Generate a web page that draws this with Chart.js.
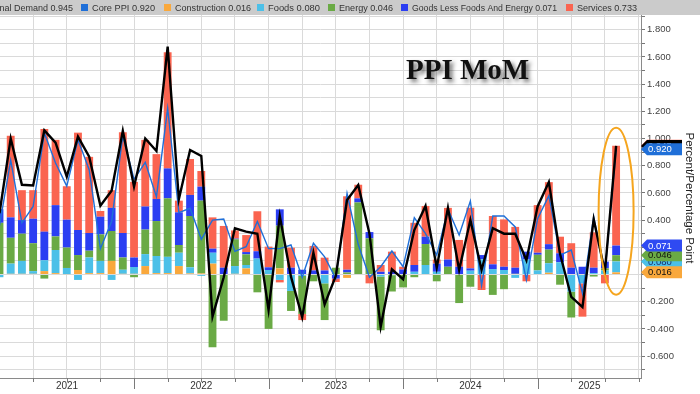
<!DOCTYPE html>
<html>
<head>
<meta charset="utf-8">
<title>PPI MoM</title>
<script src="https://cdn.jsdelivr.net/npm/chart.js@4"></script>
<style>
  html, body { margin: 0; padding: 0; background: #fff; }
  #wrap { width: 700px; height: 394px; }
</style>
</head>
<body>
<div id="wrap"><canvas id="ppi-chart" width="700" height="394"></canvas></div>
<script>
// Monthly contributions to PPI final demand (percentage points), Dec 2020 .. Jul 2025
const construction = [
  0.000,
  0.005, 0.005, 0.005, 0.025, 0.010, 0.003, 0.033, 0.010, 0.010, 0.100, 0.005, 0.005,
  0.062, 0.010, 0.010, 0.062, 0.008, 0.008, 0.080, 0.000, 0.005, 0.045, 0.003, 0.000,
  0.045, 0.000, 0.000, 0.000, 0.000, 0.000, -0.025, 0.000, 0.000, 0.000, 0.000, 0.000,
  0.000, 0.000, 0.000, 0.000, 0.000, 0.000, 0.000, 0.000, 0.000, 0.000, 0.000, 0.000,
  0.013, 0.000, 0.000, 0.000, 0.000, 0.000, 0.016
];
const foods = [
  -0.020,
  0.075, 0.095, 0.020, 0.080, 0.170, 0.045, -0.040, 0.115, 0.090, -0.040, 0.030, 0.050,
  0.088, 0.126, 0.120, 0.098, 0.045, -0.010, 0.080, 0.000, 0.057, 0.025, 0.114, 0.033,
  -0.040, -0.121, -0.010, 0.000, -0.065, 0.000, 0.000, 0.000, 0.000, -0.015, -0.005, 0.000,
  0.020, 0.070, 0.020, 0.000, 0.000, 0.028, 0.112, 0.040, 0.033, -0.025, 0.110, 0.030,
  0.070, 0.090, -0.126, -0.065, 0.010, 0.030, 0.080
];
const energy = [
  0.380,
  0.190, 0.200, 0.205, -0.030, 0.100, 0.150, 0.110, 0.050, 0.195, 0.220, 0.090, -0.020,
  0.180, 0.257, 0.430, 0.057, 0.377, 0.535, -0.535, -0.340, 0.197, 0.078, -0.131, -0.400,
  0.314, -0.147, -0.280, -0.050, -0.270, 0.050, 0.015, 0.530, 0.266, -0.395, -0.120, -0.095,
  -0.020, 0.154, -0.050, 0.057, -0.210, -0.090, 0.000, -0.150, -0.108, 0.005, 0.000, 0.115,
  0.100, -0.075, -0.190, 0.000, -0.015, 0.015, 0.046
];
const goodsLessFoodsEnergy = [
  0.100,
  0.150, 0.100, 0.180, 0.210, 0.230, 0.205, 0.184, 0.130, 0.130, 0.170, 0.180, 0.070,
  0.170, 0.162, 0.220, 0.240, 0.155, 0.103, 0.030, 0.050, 0.005, 0.017, 0.054, 0.020,
  0.120, 0.050, 0.035, 0.030, 0.030, -0.030, 0.020, 0.030, 0.046, 0.020, 0.020, 0.037,
  0.050, 0.054, 0.060, 0.053, 0.057, 0.017, 0.031, 0.035, 0.024, 0.045, 0.058, 0.015,
  0.040, 0.066, 0.050, 0.057, 0.040, 0.050, 0.071
];
const services = [
  0.000,
  0.600, 0.220, 0.210, 0.755, 0.480, 0.246, 0.716, 0.560, 0.042, 0.130, 0.740, 0.556,
  0.490, 0.330, 0.855, 0.086, 0.264, 0.115, 0.230, 0.307, 0.060, 0.125, 0.294, 0.152,
  -0.018, 0.147, -0.045, 0.180, 0.094, -0.025, 0.540, 0.100, -0.065, 0.050, 0.148, 0.020,
  0.310, 0.226, 0.030, 0.380, 0.197, 0.446, -0.114, 0.355, 0.348, 0.300, -0.050, 0.350,
  0.456, 0.122, 0.180, -0.245, 0.260, -0.065, 0.733
];
// headline lines (percent MoM)
const finalDemand = [
  0.45,
  1.00, 0.66, 0.655, 1.06, 0.97, 0.72, 1.013, 0.866, 0.506, 0.616, 1.057, 0.646,
  1.00, 0.908, 1.675, 0.553, 0.915, 0.871, -0.31, -0.02, 0.34, 0.315, 0.30, -0.26,
  0.43, -0.016, -0.315, 0.16, -0.22, -0.01, 0.548, 0.658, 0.30, -0.384, 0.038, -0.035,
  0.327, 0.504, 0.05, 0.49, 0.033, 0.40, 0.033, 0.34, 0.30, 0.30, 0.105, 0.50,
  0.68, 0.15, -0.165, -0.24, 0.405, 0.02, 0.945
];
const corePPI = [
  0.36,
  0.84, 0.38, 0.50, 1.04, 0.82, 0.65, 0.99, 0.77, 0.19, 0.39, 1.02, 0.70,
  0.825, 0.572, 1.222, 0.455, 0.487, 0.259, 0.40, 0.408, 0.17, 0.204, 0.39, 0.19,
  0.19, 0.217, -0.02, 0.23, 0.13, -0.03, 0.597, 0.22, -0.02, 0.057, 0.173, 0.057,
  0.418, 0.30, 0.143, 0.48, 0.29, 0.54, -0.08, 0.43, 0.43, 0.35, -0.04, 0.41,
  0.58, 0.143, 0.18, -0.14, 0.425, 0.01, 0.92
];

// month labels, first one is Dec 2020
const months = [];
for (let i = 0; i < construction.length; i++) {
    const d = new Date(2020, 11 + i, 1);
    months.push(d.getFullYear() + '-' + String(d.getMonth() + 1).padStart(2, '0'));
}
const years = ['2021', '2022', '2023', '2024', '2025'];
const yTickValues = [];
for (let k = -7; k <= 19; k++) yTickValues.push(k / 10);

// month-end position: months since 1 Jan 2021
function monthPos(label) {
    const [y, m] = label.split('-').map(Number);
    return (y - 2021) * 12 + m;
}
const toPoints = (vals) => vals.map((v, i) => ({ x: monthPos(months[i]), y: v }));

const COLORS = {
    construction: '#f9a83c',
    foods: '#4cc0e8',
    energy: '#6aaa45',
    goods: '#2b3ef2',
    services: '#fa6450',
    core: '#1f6fd8',
    final: '#000000'
};

const X_MIN = 0.045;
const X_MAX = 57.22;

function barSet(label, vals, color) {
    return {
        type: 'bar', label, data: toPoints(vals), backgroundColor: color,
        borderWidth: 0, stack: 'parts', order: 2,
        barPercentage: 0.7, categoryPercentage: 1
    };
}

function drawTag(ctx, y, fill, textColor, text) {
    ctx.beginPath();
    ctx.moveTo(641, y);
    ctx.lineTo(647, y - 6);
    ctx.lineTo(682, y - 6);
    ctx.lineTo(682, y + 6);
    ctx.lineTo(647, y + 6);
    ctx.closePath();
    ctx.fillStyle = fill;
    ctx.fill();
    ctx.fillStyle = textColor;
    ctx.font = '9.5px "Liberation Sans"';
    ctx.textAlign = 'left';
    ctx.textBaseline = 'middle';
    ctx.fillText(text, 648, y + 0.5);
}

const decorations = {
    id: 'decorations',
    beforeDraw(chart) {
        const { ctx } = chart;
        ctx.save();
        ctx.fillStyle = '#cbcbcb';
        ctx.fillRect(0, 0, chart.width, 15);
        ctx.restore();
    },
    afterDraw(chart) {
        const { ctx, chartArea } = chart;
        const xs = chart.scales.x;
        const ys = chart.scales.y;
        const last = construction.length - 1;
        ctx.save();

        // legend strip: name, colour, last value, text x, text width
        const legendItems = [
            ['Final Demand', COLORS.final, finalDemand[last], -8, 81],
            ['Core PPI', COLORS.core, corePPI[last], 92, 63],
            ['Construction', COLORS.construction, construction[last], 175, 76],
            ['Foods', COLORS.foods, foods[last], 268, 52],
            ['Energy', COLORS.energy, energy[last], 339, 54],
            ['Goods Less Foods And Energy', COLORS.goods, goodsLessFoodsEnergy[last], 412, 145],
            ['Services', COLORS.services, services[last], 577, 60]
        ];
        ctx.font = '9.5px "Liberation Sans"';
        ctx.textBaseline = 'alphabetic';
        ctx.textAlign = 'left';
        legendItems.forEach(([name, color, val, tx, w]) => {
            ctx.fillStyle = color;
            ctx.fillRect(tx - 11, 4, 7, 7);
            ctx.fillStyle = '#333';
            ctx.fillText(name + ' ' + val.toFixed(3), tx, 11, w);
        });

        // bottom axis ticks and year labels
        ctx.strokeStyle = '#7a7a7a';
        ctx.lineWidth = 1;
        for (let m = 3; m <= 57; m += 3) {
            const px = Math.round(xs.getPixelForValue(m)) + 0.5;
            ctx.beginPath();
            ctx.moveTo(px, chartArea.bottom);
            ctx.lineTo(px, chartArea.bottom + (m % 12 === 0 ? 11 : 4));
            ctx.stroke();
        }
        ctx.fillStyle = '#333';
        ctx.font = '10px "Liberation Sans"';
        ctx.textAlign = 'center';
        ctx.textBaseline = 'middle';
        years.forEach((yr, i) => {
            const a = Math.max(xs.getPixelForValue(i * 12), chartArea.left);
            const b = Math.min(xs.getPixelForValue(i * 12 + 12), chartArea.right);
            ctx.fillText(yr, (a + b) / 2, 386);
        });

        // right axis title
        ctx.save();
        ctx.translate(689, 198);
        ctx.rotate(Math.PI / 2);
        ctx.font = '11.5px "Liberation Sans"';
        ctx.fillStyle = '#222';
        ctx.textAlign = 'center';
        ctx.textBaseline = 'middle';
        ctx.fillText('Percent/Percentage Point', 0, 0);
        ctx.restore();

        // chart title
        ctx.save();
        ctx.font = 'bold 29px "Liberation Serif"';
        ctx.textAlign = 'left';
        ctx.textBaseline = 'alphabetic';
        ctx.shadowColor = 'rgba(0,0,0,0.55)';
        ctx.shadowBlur = 4;
        ctx.shadowOffsetX = 3;
        ctx.shadowOffsetY = 3;
        ctx.fillStyle = '#111';
        ctx.fillText('PPI MoM', 406, 79);
        ctx.restore();

        // highlight ellipse round the latest month
        ctx.beginPath();
        ctx.ellipse(xs.getPixelForValue(monthPos(months[last])), ys.getPixelForValue(0.465), 17.5, 83.5, 0, 0, Math.PI * 2);
        ctx.strokeStyle = '#f5a51e';
        ctx.lineWidth = 2;
        ctx.stroke();

        // last value tags on the right axis
        const cConstr = construction[last];
        const cFoods = cConstr + foods[last];
        const cEnergy = cFoods + energy[last];
        const cGoods = cEnergy + goodsLessFoodsEnergy[last];
        const cServices = cGoods + services[last];
        drawTag(ctx, ys.getPixelForValue(cServices), COLORS.services, '#fff', services[last].toFixed(3));
        drawTag(ctx, ys.getPixelForValue(finalDemand[last]), '#000', '#fff', finalDemand[last].toFixed(3));
        drawTag(ctx, ys.getPixelForValue(corePPI[last]), COLORS.core, '#fff', corePPI[last].toFixed(3));
        drawTag(ctx, ys.getPixelForValue(cFoods), COLORS.foods, '#1a2a6a', foods[last].toFixed(3));
        drawTag(ctx, ys.getPixelForValue(cEnergy), COLORS.energy, '#111', energy[last].toFixed(3));
        drawTag(ctx, ys.getPixelForValue(cGoods), '#2f4af2', '#fff', goodsLessFoodsEnergy[last].toFixed(3));
        drawTag(ctx, ys.getPixelForValue(cConstr), COLORS.construction, '#111', cConstr.toFixed(3));

        ctx.restore();
    }
};

const ctx = document.getElementById('ppi-chart').getContext('2d');
new Chart(ctx, {
    type: 'bar',
    data: {
        datasets: [
            {
                type: 'line', label: 'Final Demand', data: toPoints(finalDemand),
                borderColor: COLORS.final, borderWidth: 2.4, pointRadius: 0,
                tension: 0, stack: 'final', order: 0
            },
            {
                type: 'line', label: 'Core PPI', data: toPoints(corePPI),
                borderColor: COLORS.core, borderWidth: 1.4, pointRadius: 0,
                tension: 0, stack: 'core', order: 1
            },
            barSet('Construction', construction, COLORS.construction),
            barSet('Foods', foods, COLORS.foods),
            barSet('Energy', energy, COLORS.energy),
            barSet('Goods Less Foods And Energy', goodsLessFoodsEnergy, COLORS.goods),
            barSet('Services', services, COLORS.services)
        ]
    },
    options: {
        responsive: false,
        animation: false,
        devicePixelRatio: 1,
        layout: { padding: { top: 15, left: 0, right: 0, bottom: 0 } },
        plugins: { legend: { display: false }, tooltip: { enabled: false } },
        scales: {
            x: {
                type: 'linear', min: X_MIN, max: X_MAX, offset: false,
                grid: { offset: false, color: '#dadada', lineWidth: 1, drawTicks: false },
                border: { display: true, color: '#8a8a8a' },
                ticks: { display: false },
                afterBuildTicks: (scale) => {
                    const t = [];
                    for (let m = 3; m <= 57; m += 3) t.push({ value: m });
                    scale.ticks = t;
                },
                afterFit: (scale) => { scale.height = 16; }
            },
            y: {
                position: 'right', stacked: true, min: -0.761, max: 1.908,
                grid: { color: '#dadada', tickColor: '#777', tickLength: 4 },
                border: { display: true, color: '#8a8a8a' },
                ticks: {
                    autoSkip: false, padding: 2, color: '#444',
                    font: { family: 'Liberation Sans', size: 9.5 },
                    callback: (v) => (Math.round(v * 10) % 2 === 0 ? Number(v).toFixed(3) : '')
                },
                afterBuildTicks: (scale) => {
                    scale.ticks = yTickValues.map(v => ({ value: v }));
                },
                afterFit: (scale) => { scale.width = 59; }
            }
        }
    },
    plugins: [decorations]
});
</script>
</body>
</html>
